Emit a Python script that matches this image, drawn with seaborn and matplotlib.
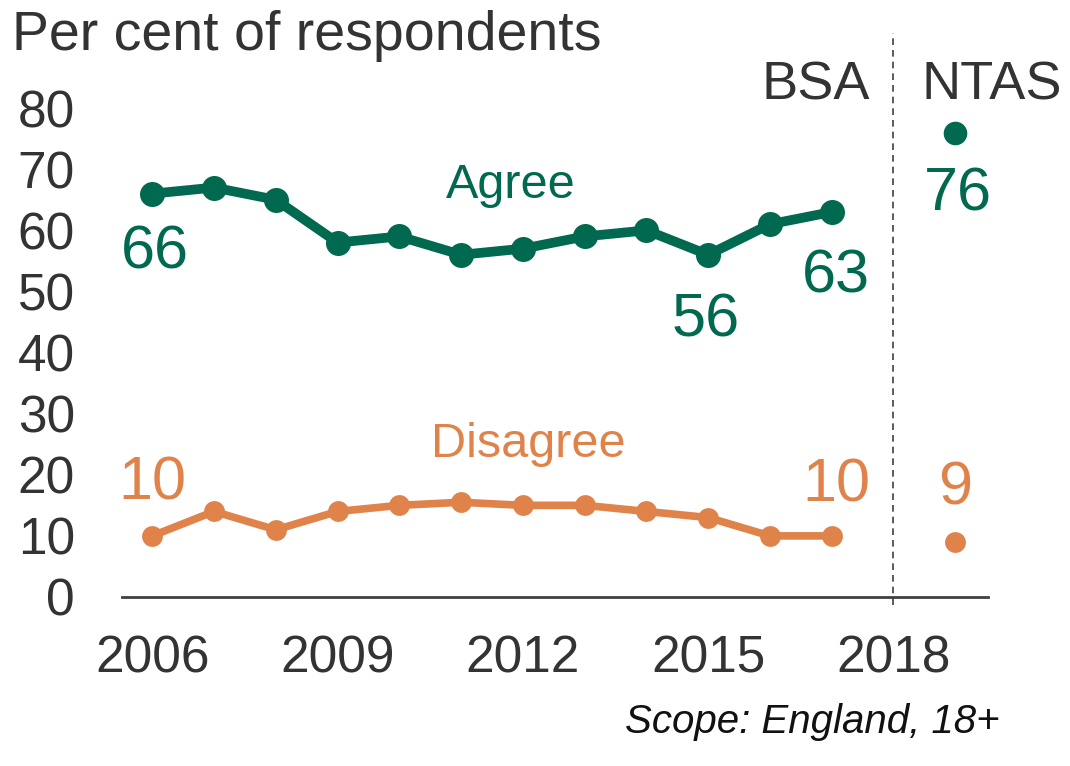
import numpy as np
import pandas as pd
import matplotlib
matplotlib.use('Agg')
import matplotlib.pyplot as plt
import seaborn as sns

# BSA survey values
years = [2006, 2007, 2008, 2009, 2010, 2011, 2012, 2013, 2014, 2015, 2016, 2017]
agree = [66, 67, 65, 58, 59, 56, 57, 59, 60, 56, 61, 63]
disagree = [10, 14, 11, 14, 15, 15.5, 15, 15, 14, 13, 10, 10]

# NTAS single point
ntas_year = 2019
ntas_agree = 76
ntas_disagree = 9

xticks = [2006, 2009, 2012, 2015, 2018]
yticks = [0, 10, 20, 30, 40, 50, 60, 70, 80]

green = '#00694F'
orange = '#E0834A'
dark = '#333333'

sns.set_style('white')
plt.rcParams['font.family'] = ['Liberation Sans', 'DejaVu Sans']

df = pd.DataFrame({'year': years, 'Agree': agree, 'Disagree': disagree})

fig = plt.figure(figsize=(10.7, 7.66), dpi=100)
ax = fig.add_axes([122 / 1070, 1 - 597 / 766, (988 - 122) / 1070, 550 / 766])

sns.lineplot(data=df, x='year', y='Agree', ax=ax, color=green, linewidth=7,
             marker='o', markersize=18, markeredgewidth=0)
sns.lineplot(data=df, x='year', y='Disagree', ax=ax, color=orange, linewidth=5.5,
             marker='o', markersize=15, markeredgewidth=0)
ax.plot([ntas_year], [ntas_agree], 'o', color=green, markersize=17, markeredgewidth=0)
ax.plot([ntas_year], [ntas_disagree], 'o', color=orange, markersize=15, markeredgewidth=0)

ax.set_xlim(2005.51, 2019.53)
ax.set_ylim(0, 90)
ax.set_xticks(xticks)
ax.set_yticks(yticks)
ax.tick_params(axis='both', length=0, labelsize=37, colors=dark)
ax.tick_params(axis='y', pad=34)
ax.tick_params(axis='x', pad=27)
ax.set_xlabel('')
ax.set_ylabel('')
for s in ['top', 'right', 'left']:
    ax.spines[s].set_visible(False)
ax.spines['bottom'].set_color('#404040')
ax.spines['bottom'].set_linewidth(2)

# divider between surveys
ax.axvline(2018, ymin=-0.015, ymax=1.025, color='#404040', linestyle=(0, (4, 3)),
           linewidth=1.2, clip_on=False)

# value labels
lab = dict(fontsize=44, ha='center', va='center', textcoords='offset points')
ax.annotate('66', (years[0], agree[0]), xytext=(2, -43), color=green, **lab)
ax.annotate('56', (years[9], agree[9]), xytext=(-2, -48), color=green, **lab)
ax.annotate('63', (years[11], agree[11]), xytext=(3, -47), color=green, **lab)
ax.annotate('76', (ntas_year, ntas_agree), xytext=(2, -45), color=green, **lab)
ax.annotate('10', (years[0], disagree[0]), xytext=(0, 37), color=orange, **lab)
ax.annotate('10', (years[11], disagree[11]), xytext=(3, 36), color=orange, **lab)
ax.annotate('9', (ntas_year, ntas_disagree), xytext=(0, 38), color=orange, **lab)

ax.text(2011.8, 67.4, 'Agree', color=green, fontsize=35, ha='center', va='center')
ax.text(2012.08, 24.9, 'Disagree', color=orange, fontsize=35, ha='center', va='center')

fig.text(12 / 1070, 1 - 50 / 766, 'Per cent of respondents', fontsize=40, color=dark,
         ha='left', va='baseline')
fig.text(870 / 1070, 1 - 100 / 766, 'BSA', fontsize=39, color=dark, ha='right', va='baseline')
fig.text(922 / 1070, 1 - 100 / 766, 'NTAS', fontsize=39, color=dark, ha='left', va='baseline')
fig.text(1000 / 1070, 1 - 733 / 766, 'Scope: England, 18+', fontsize=29, color='#111111',
         style='italic', ha='right', va='baseline')

fig.savefig('out.png', dpi=100)
